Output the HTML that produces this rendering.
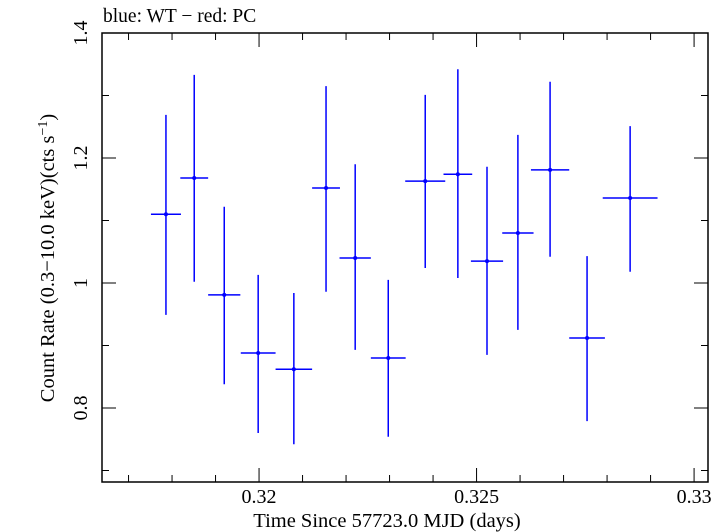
<!DOCTYPE html>
<html><head><meta charset="utf-8"><style>
html,body{margin:0;padding:0;background:#fff;}
svg{display:block;font-family:"Liberation Serif",serif;}
</style></head><body>
<svg id="chart" width="726" height="532" viewBox="0 0 726 532" xmlns="http://www.w3.org/2000/svg">
<text x="103" y="22" font-size="19.5">blue: WT − red: PC</text>
<rect x="102" y="33" width="606" height="449" fill="none" stroke="#000" stroke-width="1.5"/>
<g id="ticks"></g>
<g id="marks"></g>
<text x="387" y="527" font-size="20.5" text-anchor="middle">Time Since 57723.0 MJD (days)</text>
<text transform="translate(54,258) rotate(-90)" font-size="20.5" text-anchor="middle">Count Rate (0.3−10.0 keV)(cts s<tspan dy="-7" font-size="14">−1</tspan><tspan dy="7">)</tspan></text>
</svg>
<script>
const times=[0.31786,0.31851,0.31920,0.31998,0.32080,0.32154,0.32221,0.32297,0.32382,0.32457,0.32524,0.32595,0.32669,0.32754,0.32853];
const halfWidths=[0.000345,0.00032,0.00037,0.0004,0.00042,0.00032,0.00036,0.0004,0.00046,0.00033,0.00037,0.00036,0.00044,0.00041,0.00063];
const rates=[1.110,1.168,0.981,0.888,0.862,1.152,1.040,0.880,1.163,1.174,1.035,1.080,1.181,0.912,1.136];
const ratesHigh=[1.269,1.333,1.122,1.013,0.984,1.315,1.190,1.005,1.301,1.342,1.186,1.237,1.322,1.043,1.251];
const ratesLow=[0.949,1.002,0.838,0.760,0.742,0.986,0.893,0.754,1.024,1.008,0.885,0.925,1.042,0.779,1.018];
const xTickLabels=["0.32","0.325","0.33"];
const yTickLabels=["0.8","1","1.2","1.4"];
const L=102,R=708,T=33,B=482;
const x0=0.31639,x1=0.33032,y0=0.6816,y1=1.4;
const X=v=>L+(v-x0)/(x1-x0)*(R-L);
const Y=v=>B-(v-y0)/(y1-y0)*(B-T);
const NS="http://www.w3.org/2000/svg";
function mk(tag,attrs,parent){const e=document.createElementNS(NS,tag);for(const k in attrs)e.setAttribute(k,attrs[k]);parent.appendChild(e);return e;}
const tg=document.getElementById('ticks');
for(let i=317;i<=330;i++){const v=i/1000;const px=X(v);const major=(i%5===0);const len=major?14:7;
 let t=mk('line',{x1:px,x2:px,y1:B,y2:B-len,stroke:'#000','stroke-width':1},tg);
 
 t=mk('line',{x1:px,x2:px,y1:T,y2:T+len,stroke:'#000','stroke-width':1},tg);
 }
xTickLabels.forEach(s=>{const t=mk('text',{x:X(parseFloat(s)),y:503,'font-size':20,'text-anchor':'middle'},tg);t.textContent=s;
 });
for(let i=7;i<=14;i++){const v=i/10;const py=Y(v);const major=(i%2===0);const len=major?14:7;
 let t=mk('line',{x1:L,x2:L+len,y1:py,y2:py,stroke:'#000','stroke-width':1},tg);
 
 t=mk('line',{x1:R,x2:R-len,y1:py,y2:py,stroke:'#000','stroke-width':1},tg);
 }
yTickLabels.forEach(s=>{const py=Y(parseFloat(s));const t=mk('text',{transform:`translate(87,${py}) rotate(-90)`,'font-size':20,'text-anchor':'middle'},tg);t.textContent=s;
 });
const mg=document.getElementById('marks');
times.forEach((t,i)=>{const g=mk('g',{},mg);
 
 
 mk('line',{x1:X(t-halfWidths[i]),x2:X(t+halfWidths[i]),y1:Y(rates[i]),y2:Y(rates[i]),stroke:'#0000ff','stroke-width':1.5},g);
 mk('line',{x1:X(t),x2:X(t),y1:Y(ratesHigh[i]),y2:Y(ratesLow[i]),stroke:'#0000ff','stroke-width':1.5},g);
 mk('circle',{cx:X(t),cy:Y(rates[i]),r:2,fill:'#0000ff'},g);});
</script>
</body></html>
